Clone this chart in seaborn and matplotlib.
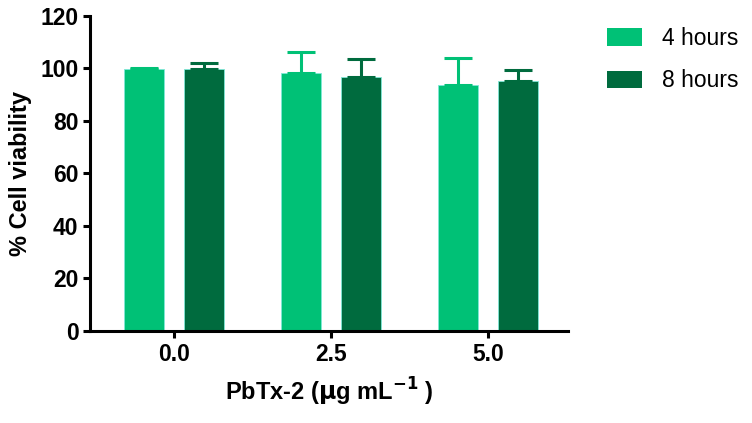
import matplotlib
matplotlib.use("Agg")
import matplotlib.pyplot as plt
import seaborn as sns
import pandas as pd
import numpy as np
from matplotlib.patches import Patch

doses = ["0.0", "2.5", "5.0"]
groups = ["4 hours", "8 hours"]
mean_4h = [99.8, 98.3, 93.7]
mean_8h = [99.8, 96.8, 95.2]
err_4h = [0.4, 8.0, 10.3]
err_8h = [2.3, 6.8, 4.2]
colors = ["#00C176", "#006B3E"]

df = pd.DataFrame({
    "dose": doses * 2,
    "group": [groups[0]] * 3 + [groups[1]] * 3,
    "value": mean_4h + mean_8h,
})

sns.set_style("ticks")
plt.rcParams['font.family'] = ['Liberation Sans', 'DejaVu Sans']
plt.rcParams['text.color'] = 'black'
plt.rcParams['axes.labelcolor'] = 'black'
plt.rcParams['xtick.color'] = 'black'
plt.rcParams['ytick.color'] = 'black'

fig = plt.figure(figsize=(7.52, 4.23), dpi=100)
ax = fig.add_axes([0.12, 0.2175, 0.635, 0.745])

sns.barplot(data=df, x="dose", y="value", hue="group", order=doses,
            hue_order=groups, palette=colors, width=0.76, gap=0.33,
            errorbar=None, ax=ax, legend=False, saturation=1,
            edgecolor="#7FE8D8", linewidth=0.6)

errs = {groups[0]: err_4h, groups[1]: err_8h}
means = {groups[0]: mean_4h, groups[1]: mean_8h}
for gi, (cont, g) in enumerate(zip(ax.containers, groups)):
    xs = [p.get_x() + p.get_width() / 2 for p in cont.patches]
    ys = means[g]
    e = errs[g]
    ax.errorbar(xs, ys, yerr=[np.zeros(len(e)), e], fmt="none",
                ecolor=colors[gi], elinewidth=2.2, capsize=10, capthick=2.2,
                zorder=3)

ax.set_ylim(0, 120)
ax.set_yticks(range(0, 121, 20))
ax.set_xlim(-0.535, 2.51)
for s in ["top", "right"]:
    ax.spines[s].set_visible(False)
for s in ["left", "bottom"]:
    ax.spines[s].set_linewidth(2.2)
    ax.spines[s].set_color("black")
ax.tick_params(axis="both", width=2.2, length=5, labelsize=16.5, color="black",
               labelcolor="black")
for lab in ax.get_xticklabels() + ax.get_yticklabels():
    lab.set_fontweight("bold")

ax.set_xlabel(r"PbTx-2 ($\mathbf{\mu}$g mL$^{\mathbf{-1}}$ )", fontsize=17,
              fontweight="bold", labelpad=7, color="black")
ax.set_ylabel("% Cell viability", fontsize=17, fontweight="bold", labelpad=6,
              color="black")

handles = [Patch(facecolor=c, edgecolor="none") for c in colors]
fig.legend(handles, groups, loc="upper left", bbox_to_anchor=(0.78, 0.985),
           frameon=False, fontsize=16.5, handlelength=1.5, handleheight=0.8,
           labelspacing=0.85, handletextpad=0.9, labelcolor="black")

fig.savefig("out.png", dpi=100)
